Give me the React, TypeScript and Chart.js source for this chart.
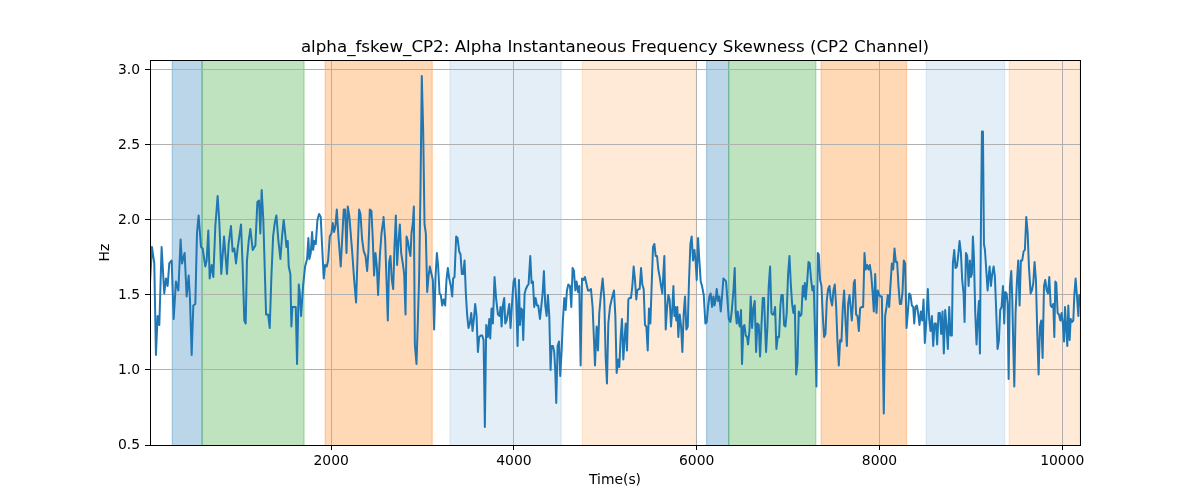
import { useEffect, useRef } from "react";
import { Chart, registerables } from "chart.js";

Chart.register(...registerables);

// values, segment by segment
const timeS = [
  18, 39, 65, 83, 101, 120, 145, 174, 193, 211, 229, 255, 277, 302, 328, 353, 368, 397, 419, 441, 455, 474, 492, 514, 532, 550, 576, 594, 623, 638, 656, 671, 693, 711, 733, 758, 777, 798, 828, 860, 879, 904, 922, 941, 959, 977, 1014, 1032, 1050, 1065, 1079, 1098, 1116, 1142, 1171, 1193, 1211, 1225, 1240, 1258, 1288,
  1310, 1328, 1346, 1365, 1383, 1401, 1423, 1445, 1463, 1481, 1500, 1511, 1525, 1536, 1554, 1565, 1576, 1594, 1613, 1627, 1646, 1657, 1671, 1693, 1715, 1737, 1751, 1762, 1777, 1792, 1803, 1817, 1832, 1850, 1868, 1886, 1901, 1919, 1934, 1952, 1967, 1985, 2003, 2018, 2032, 2047, 2062, 2080, 2105, 2124, 2138, 2153, 2168, 2182, 2200, 2230, 2252, 2273, 2292, 2306, 2321, 2339, 2357, 2376, 2394, 2408, 2423, 2441, 2456, 2470, 2485, 2500, 2514, 2533, 2551, 2569,
  2573, 2591, 2606, 2620, 2635, 2649, 2664, 2679, 2693, 2708, 2722, 2737, 2752, 2766, 2784, 2799, 2814, 2825, 2839, 2854, 2868, 2879, 2894, 2905, 2916, 2934, 2949, 2963, 2978, 2992, 3007, 3022, 3036, 3051, 3065, 3080, 3098, 3113, 3127, 3142, 3157, 3171, 3186, 3200, 3215, 3230, 3248, 3262, 3277, 3292, 3310, 3325, 3335, 3350, 3368, 3383, 3401, 3416, 3430, 3445, 3460, 3474, 3489, 3503, 3518, 3533, 3547, 3562, 3576, 3591, 3606, 3620, 3638, 3653, 3668, 3682, 3697, 3715, 3730, 3741, 3755, 3770, 3788, 3806, 3825, 3843,
  3854, 3865, 3879, 3894, 3905, 3920, 3934, 3949, 3963, 3982, 3996, 4011, 4025, 4040, 4055, 4066, 4080, 4091, 4102, 4117, 4131, 4146, 4160, 4179, 4193, 4208, 4222, 4237, 4252, 4266, 4285, 4299, 4314, 4328, 4343, 4358, 4372, 4387, 4401, 4412, 4427, 4441, 4452, 4463, 4478, 4493, 4507, 4522, 4536, 4551, 4566, 4580, 4595, 4613, 4628, 4642, 4657, 4672, 4686, 4701, 4715, 4730, 4745, 4763, 4777, 4792, 4810, 4828, 4843, 4861, 4876, 4887, 4905, 4920, 4934, 4953, 4971, 4989, 5004, 5018, 5033, 5051, 5073, 5095, 5110, 5124,
  5142, 5153, 5168, 5182, 5197, 5212, 5223, 5237, 5252, 5263, 5281, 5296, 5310, 5325, 5339, 5350, 5365, 5376, 5391, 5405, 5420, 5434, 5449, 5464, 5478, 5493, 5507, 5522, 5537, 5551, 5566, 5580, 5595, 5610, 5624, 5635, 5646, 5661, 5675, 5690, 5704, 5719, 5734, 5745, 5756, 5766, 5777, 5788, 5799, 5814, 5829, 5843, 5858, 5872, 5887, 5902, 5916, 5931, 5945, 5960, 5975, 5989, 6000, 6015, 6029, 6044, 6058, 6077, 6095, 6110, 6124, 6139, 6153, 6168, 6183, 6194, 6208, 6219, 6234, 6248, 6263, 6277, 6292, 6307, 6321, 6336, 6351, 6369, 6383, 6402,
  6416, 6427, 6438, 6449, 6460, 6471, 6485, 6496, 6511, 6522, 6536, 6551, 6562, 6577, 6591, 6606, 6620, 6635, 6650, 6664, 6679, 6693, 6708, 6723, 6737, 6748, 6759, 6774, 6788, 6803, 6818, 6828, 6843, 6858, 6872, 6887, 6901, 6916, 6927, 6942, 6956, 6971, 6985, 7000, 7015, 7029, 7044, 7058, 7073, 7088, 7102, 7117, 7131, 7146, 7161, 7172, 7183, 7193, 7208, 7223, 7237, 7252, 7266, 7281, 7296, 7310, 7325, 7336, 7350, 7365, 7380, 7394, 7409, 7423, 7438, 7453, 7467, 7482, 7496, 7511, 7526, 7540, 7555, 7569, 7584, 7599, 7613, 7628, 7643, 7657, 7672, 7686,
  7697, 7708, 7719, 7730, 7744, 7759, 7774, 7788, 7803, 7821, 7836, 7850, 7865, 7880, 7894, 7909, 7923, 7938, 7953, 7967, 7982, 7996, 8011, 8026, 8036, 8047, 8062, 8077, 8091, 8106, 8120, 8135, 8150, 8164, 8179, 8193, 8208, 8223, 8237, 8252, 8266, 8281, 8296, 8310, 8325, 8339, 8354, 8369, 8380, 8394, 8409, 8423, 8438, 8453, 8467, 8482, 8496, 8511, 8529, 8544, 8558, 8573, 8588, 8602, 8617, 8631, 8646, 8661, 8675, 8690, 8704, 8719, 8734, 8748, 8763, 8777, 8792, 8803, 8818, 8832, 8847, 8861, 8876, 8891, 8905, 8920, 8931, 8946, 8960, 8975,
  8989, 9000, 9011, 9022, 9033, 9048, 9062, 9077, 9088, 9099, 9110, 9121, 9132, 9143, 9154, 9168, 9183, 9194, 9205, 9219, 9234, 9249, 9263, 9278, 9292, 9307, 9321, 9336, 9351, 9365, 9376, 9391, 9402, 9413, 9427, 9442, 9453, 9464, 9475, 9489, 9504, 9518, 9533, 9547, 9562, 9577, 9591, 9606, 9621, 9635, 9654, 9668, 9683, 9697, 9712, 9727, 9741, 9756, 9770, 9785, 9800, 9814, 9829, 9843, 9858, 9873, 9887, 9902, 9913, 9924, 9935, 9949, 9964, 9979, 9993, 10008, 10019, 10030, 10041, 10055, 10066, 10081, 10092, 10106, 10121, 10132, 10146, 10161, 10176, 10186, 10194,
];

const fskewHz = [
  1.58, 1.82, 1.71, 1.10, 1.36, 1.30, 1.82, 1.51, 1.61, 1.56, 1.71, 1.73, 1.34, 1.59, 1.53, 1.87, 1.71, 1.78, 1.49, 1.63, 1.48, 1.10, 1.43, 1.44, 1.91, 2.03, 1.82, 1.81, 1.69, 1.73, 1.93, 1.61, 1.70, 1.62, 1.96, 2.16, 1.98, 1.64, 1.89, 1.64, 1.84, 1.96, 1.79, 1.81, 1.71, 1.81, 1.97, 1.69, 1.33, 1.31, 1.73, 1.86, 1.94, 1.80, 1.83, 2.12, 2.13, 1.91, 2.20, 2.00, 1.37,
  1.37, 1.28, 1.62, 1.89, 1.98, 2.03, 1.86, 1.74, 1.89, 2.00, 1.89, 1.82, 1.86, 1.69, 1.64, 1.29, 1.42, 1.42, 1.42, 1.04, 1.57, 1.51, 1.36, 1.56, 1.69, 1.74, 1.88, 1.74, 1.78, 1.92, 1.80, 1.86, 1.84, 2.00, 2.04, 2.02, 1.83, 1.61, 1.70, 1.69, 1.73, 1.89, 1.91, 1.98, 1.92, 1.96, 2.07, 1.89, 1.69, 1.91, 2.07, 2.07, 1.78, 2.09, 2.02, 1.79, 1.60, 1.45, 1.82, 2.07, 2.04, 1.87, 1.79, 1.76, 1.66, 1.79, 2.07, 2.06, 1.87, 1.63, 1.78, 1.69, 1.50, 1.76, 1.91, 1.99,
  2.02, 1.87, 1.60, 1.33, 1.72, 1.76, 1.60, 1.54, 1.82, 2.03, 1.70, 1.86, 1.97, 1.78, 1.71, 1.64, 1.37, 1.89, 1.86, 1.80, 1.76, 1.91, 1.98, 2.09, 1.17, 1.04, 1.33, 1.62, 2.22, 2.96, 2.60, 1.97, 1.91, 1.52, 1.62, 1.69, 1.64, 1.60, 1.27, 1.62, 1.78, 1.69, 1.51, 1.50, 1.43, 1.47, 1.43, 1.60, 1.68, 1.61, 1.56, 1.49, 1.61, 1.62, 1.89, 1.88, 1.79, 1.77, 1.64, 1.64, 1.73, 1.51, 1.36, 1.28, 1.31, 1.38, 1.26, 1.34, 1.44, 1.36, 1.12, 1.22, 1.23, 1.23, 1.20, 0.62, 1.30, 1.22, 1.34, 1.21, 1.41, 1.31, 1.62, 1.47, 1.37, 1.36,
  1.42, 1.29, 1.43, 1.48, 1.31, 1.33, 1.38, 1.44, 1.28, 1.47, 1.59, 1.61, 1.47, 1.16, 1.60, 1.30, 1.41, 1.40, 1.20, 1.51, 1.54, 1.56, 1.57, 1.76, 1.58, 1.59, 1.42, 1.48, 1.43, 1.43, 1.34, 1.42, 1.51, 1.66, 1.43, 1.36, 1.50, 1.36, 1.00, 1.16, 1.16, 1.12, 1.00, 0.78, 1.16, 1.19, 0.96, 1.13, 1.33, 1.48, 1.40, 1.53, 1.57, 1.56, 1.42, 1.68, 1.66, 1.53, 1.59, 1.52, 1.56, 1.03, 1.61, 1.60, 1.62, 1.58, 1.53, 1.53, 1.54, 1.42, 1.20, 1.03, 1.29, 1.13, 1.38, 1.51, 1.61, 1.47, 1.08, 0.91, 1.31, 1.42, 1.48, 1.53, 1.36, 0.98,
  1.07, 1.02, 1.22, 1.34, 1.07, 1.22, 1.31, 1.13, 1.47, 1.48, 1.48, 1.56, 1.69, 1.60, 1.47, 1.53, 1.54, 1.54, 1.68, 1.57, 1.54, 1.30, 1.29, 1.13, 1.41, 1.31, 1.56, 1.82, 1.84, 1.76, 1.76, 1.67, 1.62, 1.56, 1.51, 1.64, 1.76, 1.27, 1.41, 1.50, 1.47, 1.29, 1.42, 1.56, 1.36, 1.42, 1.33, 1.42, 1.22, 1.37, 1.29, 1.12, 1.38, 1.49, 1.27, 1.29, 1.60, 1.84, 1.89, 1.73, 1.80, 1.72, 1.60, 1.88, 1.73, 1.59, 1.56, 1.50, 1.31, 1.32, 1.42, 1.49, 1.51, 1.42, 1.49, 1.43, 1.47, 1.54, 1.46, 1.49, 1.39, 1.49, 1.61, 1.60, 1.59, 1.47, 1.34, 1.32, 1.39, 1.53,
  1.68, 1.38, 1.31, 1.39, 1.32, 1.29, 1.40, 1.04, 1.29, 1.30, 1.23, 1.22, 1.17, 1.26, 1.49, 1.28, 1.41, 1.46, 1.12, 1.31, 1.30, 1.09, 1.29, 1.48, 1.48, 1.29, 1.12, 1.29, 1.56, 1.69, 1.38, 1.37, 1.37, 1.42, 1.14, 1.22, 1.22, 1.43, 1.50, 1.50, 1.30, 1.29, 1.38, 1.64, 1.76, 1.58, 1.44, 1.38, 1.43, 0.97, 1.04, 1.39, 1.36, 1.37, 1.56, 1.49, 1.58, 1.47, 1.58, 1.72, 1.71, 1.60, 1.53, 1.56, 1.22, 0.89, 1.78, 1.77, 1.60, 1.56, 1.36, 1.22, 1.24, 1.46, 1.54, 1.56, 1.47, 1.43, 1.53, 1.57, 1.42, 1.19, 1.03, 1.20, 1.19, 1.42, 1.53, 1.33, 1.16, 1.44, 1.50, 1.41,
  1.33, 1.43, 1.58, 1.60, 1.37, 1.36, 1.26, 1.41, 1.42, 1.42, 1.78, 1.67, 1.70, 1.67, 1.70, 1.64, 1.53, 1.39, 1.64, 1.38, 1.53, 1.50, 1.49, 1.49, 1.11, 0.71, 1.36, 1.42, 1.50, 1.42, 1.56, 1.71, 1.67, 1.81, 1.72, 1.72, 1.56, 1.44, 1.44, 1.52, 1.73, 1.71, 1.28, 1.38, 1.51, 1.50, 1.43, 1.42, 1.31, 1.42, 1.43, 1.38, 1.30, 1.39, 1.33, 1.47, 1.18, 1.31, 1.54, 1.34, 1.26, 1.36, 1.16, 1.31, 1.31, 1.17, 1.38, 1.38, 1.24, 1.39, 1.11, 1.40, 1.29, 1.14, 1.42, 1.23, 1.23, 1.71, 1.80, 1.68, 1.69, 1.76, 1.86, 1.78, 1.60, 1.51, 1.32, 1.78, 1.76, 1.56,
  1.73, 1.62, 1.64, 1.89, 1.76, 1.38, 1.17, 1.36, 1.46, 1.11, 1.96, 2.59, 2.59, 1.84, 1.80, 1.67, 1.53, 1.62, 1.69, 1.56, 1.64, 1.69, 1.62, 1.38, 1.14, 1.20, 1.40, 1.42, 1.56, 1.31, 1.52, 1.51, 1.44, 0.94, 1.56, 1.66, 1.47, 1.16, 0.89, 1.38, 1.59, 1.73, 1.43, 1.73, 1.73, 1.79, 1.80, 2.02, 1.92, 1.69, 1.51, 1.53, 1.58, 1.72, 1.60, 1.24, 0.97, 1.29, 1.33, 1.08, 1.56, 1.60, 1.53, 1.51, 1.62, 1.43, 1.42, 1.44, 1.22, 1.59, 1.58, 1.38, 1.37, 1.33, 1.38, 1.30, 1.19, 1.42, 1.30, 1.16, 1.43, 1.20, 1.34, 1.32, 1.33, 1.50, 1.61, 1.49, 1.36, 1.50, 1.43,
];

// shaded intervals (seconds)
const spanStart = [262, 588, 1935, 3300, 4750, 6108, 6350, 7362, 8512, 9420];
const spanEnd = [588, 1704, 3106, 4517, 5997, 6350, 7303, 8296, 9369, 10194];
const spanKind = ["blue", "green", "orange", "paleBlue", "paleOrange", "blue", "green", "orange", "paleBlue", "paleOrange"];

const xTicks = [2000, 4000, 6000, 8000, 10000];
const yTicks = [0.5, 1.0, 1.5, 2.0, 2.5, 3.0];

const spanColor: Record<string, string> = {
  blue: "rgba(31,119,180,0.3)",
  green: "rgba(44,160,44,0.3)",
  orange: "rgba(255,127,14,0.3)",
  paleBlue: "rgba(31,119,180,0.12)",
  paleOrange: "rgba(255,127,14,0.16)",
};

const FONT = "DejaVu Sans";

const spansPlugin = {
  id: "spans",
  beforeDraw(chart: any) {
    const { ctx, chartArea, scales } = chart;
    const { top, bottom } = chartArea;
    ctx.save();
    ctx.lineWidth = 1.3;
    spanStart.forEach((s, i) => {
      const x0 = scales.x.getPixelForValue(s);
      const x1 = scales.x.getPixelForValue(spanEnd[i]);
      ctx.fillStyle = spanColor[spanKind[i]];
      ctx.strokeStyle = spanColor[spanKind[i]];
      ctx.fillRect(x0, top, x1 - x0, bottom - top);
      ctx.beginPath();
      ctx.moveTo(x0, top);
      ctx.lineTo(x0, bottom);
      ctx.moveTo(x1, top);
      ctx.lineTo(x1, bottom);
      ctx.stroke();
    });
    ctx.restore();
  },
};

const framePlugin = {
  id: "frame",
  afterDraw(chart: any) {
    const { ctx, chartArea } = chart;
    ctx.save();
    ctx.strokeStyle = "#000";
    ctx.lineWidth = 1;
    ctx.strokeRect(
      Math.round(chartArea.left) + 0.5,
      Math.round(chartArea.top) + 0.5,
      Math.round(chartArea.right - chartArea.left),
      Math.round(chartArea.bottom - chartArea.top)
    );
    ctx.restore();
  },
};

export default function App() {
  const canvasRef = useRef<HTMLCanvasElement>(null);

  useEffect(() => {
    if (!canvasRef.current) return;

    const points = timeS.map((t, i) => ({ x: t, y: fskewHz[i] }));

    const chart = new Chart(canvasRef.current, {
      type: "line",
      data: {
        datasets: [
          {
            data: points,
            borderColor: "#1f77b4",
            borderWidth: 2,
            pointRadius: 0,
            tension: 0,
            borderJoinStyle: "round",
            borderCapStyle: "round",
          },
        ],
      },
      options: {
        responsive: false,
        animation: false,
        events: [],
        layout: { padding: { left: 0, right: 120, top: 0, bottom: 0 } },
        plugins: {
          legend: { display: false },
          tooltip: { enabled: false },
          title: {
            display: true,
            fullSize: false,
            text: "alpha_fskew_CP2: Alpha Instantaneous Frequency Skewness (CP2 Channel)",
            color: "#000",
            font: { family: FONT, size: 16.7, weight: "normal" },
            padding: { top: 38, bottom: 2 },
          },
        },
        scales: {
          x: {
            type: "linear",
            min: 18,
            max: 10194,
            afterBuildTicks: (scale: any) => {
              scale.ticks = xTicks.map((v) => ({ value: v }));
            },
            afterFit: (scale: any) => {
              scale.height = 55;
            },
            ticks: {
              color: "#000",
              font: { family: FONT, size: 13.9 },
              padding: 3,
              maxRotation: 0,
              callback: (v: any) => String(v),
            },
            grid: {
              color: "#b0b0b0",
              lineWidth: 1,
              tickColor: "#000",
              tickLength: 5,
              tickWidth: 1,
            },
            border: { display: false },
            title: {
              display: true,
              text: "Time(s)",
              color: "#000",
              font: { family: FONT, size: 13.9 },
              padding: { top: 0, bottom: 11 },
            },
          },
          y: {
            type: "linear",
            min: 0.5,
            max: 3.066,
            afterBuildTicks: (scale: any) => {
              scale.ticks = yTicks.map((v) => ({ value: v }));
            },
            afterFit: (scale: any) => {
              scale.width = 150;
            },
            ticks: {
              color: "#000",
              font: { family: FONT, size: 13.9 },
              padding: 5,
              callback: (v: any) => Number(v).toFixed(1),
            },
            grid: {
              color: "#b0b0b0",
              lineWidth: 1,
              tickColor: "#000",
              tickLength: 5,
              tickWidth: 1,
            },
            border: { display: false },
            title: {
              display: true,
              text: "Hz",
              color: "#000",
              font: { family: FONT, size: 13.9 },
              padding: { top: 97, bottom: 0 },
            },
          },
        },
      },
      plugins: [spansPlugin, framePlugin],
    });

    return () => {
      chart.destroy();
    };
  }, []);

  return (
    <div style={{ position: "absolute", left: 0, top: 0, width: 1200, height: 500, background: "#fff" }}>
      <canvas ref={canvasRef} width={1200} height={500}></canvas>
    </div>
  );
}
